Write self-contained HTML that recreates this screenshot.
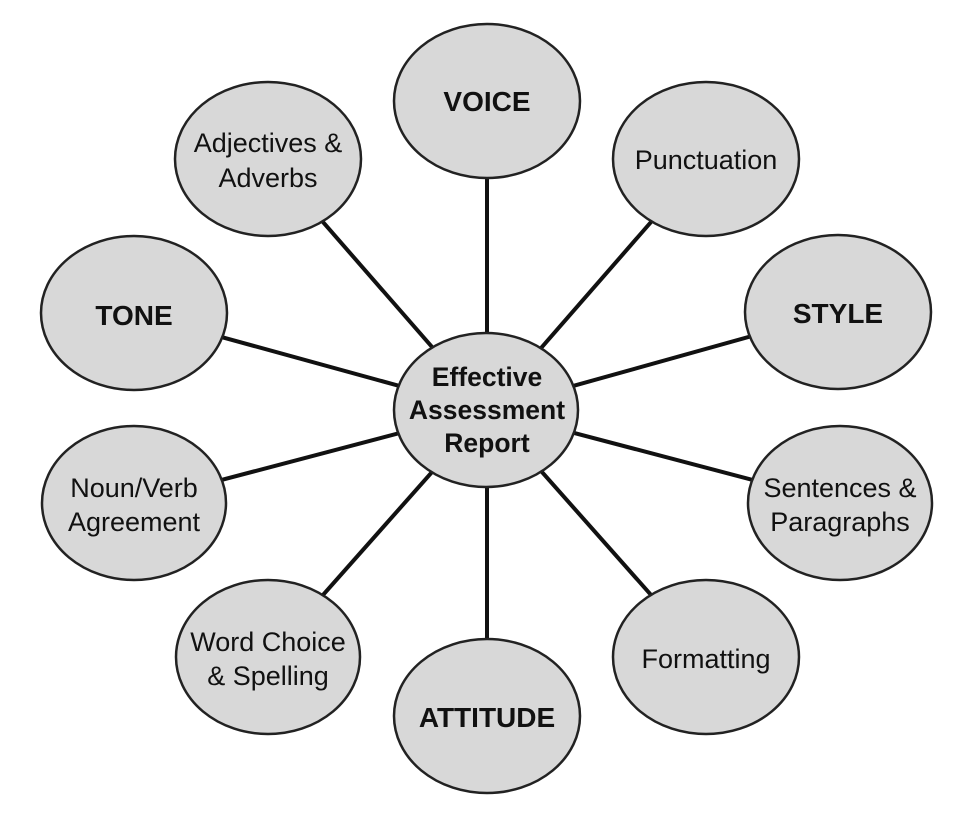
<!DOCTYPE html>
<html><head><meta charset="utf-8"><style>
html,body{margin:0;padding:0;background:#fff;}
svg{display:block;}
text{font-family:"Liberation Sans",Arial,sans-serif;fill:#111;text-anchor:middle;}
.r{font-size:27px;}
.b{font-size:28px;font-weight:bold;}
.c{font-size:26.5px;font-weight:bold;}
</style></head><body>
<svg width="980" height="830" viewBox="0 0 980 830" xmlns="http://www.w3.org/2000/svg">
<g stroke="#111" stroke-width="4">
<line x1="487" y1="410" x2="487" y2="101"/>
<line x1="487" y1="410" x2="706" y2="159"/>
<line x1="487" y1="410" x2="838" y2="312"/>
<line x1="487" y1="410" x2="840" y2="503"/>
<line x1="487" y1="410" x2="706" y2="657"/>
<line x1="487" y1="410" x2="487" y2="716"/>
<line x1="487" y1="410" x2="268" y2="657"/>
<line x1="487" y1="410" x2="134" y2="503"/>
<line x1="487" y1="410" x2="134" y2="313"/>
<line x1="487" y1="410" x2="268" y2="159"/>
</g>
<g fill="#d8d8d8" stroke="#222" stroke-width="2.5">
<ellipse cx="487" cy="101" rx="93" ry="77"/>
<ellipse cx="706" cy="159" rx="93" ry="77"/>
<ellipse cx="838" cy="312" rx="93" ry="77"/>
<ellipse cx="840" cy="503" rx="92" ry="77"/>
<ellipse cx="706" cy="657" rx="93" ry="77"/>
<ellipse cx="487" cy="716" rx="93" ry="77"/>
<ellipse cx="268" cy="657" rx="92" ry="77"/>
<ellipse cx="134" cy="503" rx="92" ry="77"/>
<ellipse cx="134" cy="313" rx="93" ry="77"/>
<ellipse cx="268" cy="159" rx="93" ry="77"/>
<ellipse cx="486" cy="410" rx="92" ry="77"/>
</g>
<text class="b" x="487" y="111">VOICE</text>
<text class="r" x="706" y="169">Punctuation</text>
<text class="b" x="838" y="323">STYLE</text>
<text class="r" x="840" y="497">Sentences &amp;</text>
<text class="r" x="840" y="531">Paragraphs</text>
<text class="r" x="706" y="668">Formatting</text>
<text class="b" x="487" y="727">ATTITUDE</text>
<text class="r" x="268" y="651">Word Choice</text>
<text class="r" x="268" y="685">&amp; Spelling</text>
<text class="r" x="134" y="497">Noun/Verb</text>
<text class="r" x="134" y="531">Agreement</text>
<text class="b" x="134" y="325">TONE</text>
<text class="r" x="268" y="152">Adjectives &amp;</text>
<text class="r" x="268" y="187">Adverbs</text>
<text class="c" x="487" y="386">Effective</text>
<text class="c" x="487" y="419">Assessment</text>
<text class="c" x="487" y="452">Report</text>
</svg>
</body></html>
